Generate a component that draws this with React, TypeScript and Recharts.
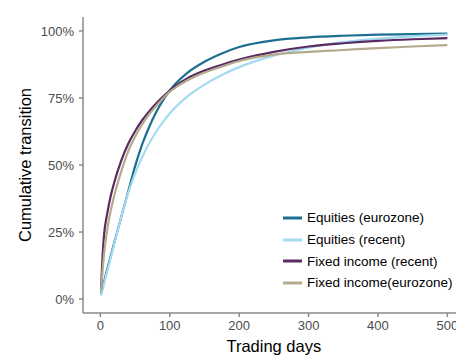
import React from "react";
import { Legend, Line, LineChart, XAxis, YAxis } from "recharts";

const days = [1, 3, 5, 10, 15, 20, 30, 40, 50, 60, 70, 80, 90, 100, 110, 125, 150, 175, 200, 250, 300, 350, 400, 450, 500];

// cumulative transition, %
const equitiesEurozone = [2, 4, 6.1, 11.2, 16.1, 21, 30.5, 40, 49.5, 57.5, 64, 69.5, 74, 77.8, 80.8, 84.3, 88.5, 91.6, 94, 96.5, 97.6, 98.2, 98.6, 98.8, 99];
const equitiesRecent = [1.2, 3.2, 5.3, 10.5, 15.5, 20.5, 30.5, 39.5, 46.8, 52.8, 57.9, 62.3, 66, 69.2, 72, 75.5, 80, 83.6, 86.5, 90.8, 93.8, 95.8, 97.1, 98, 98.6];
const fixedRecent = [3.6, 15, 23, 32, 38.5, 43.5, 51.5, 57.8, 62.6, 66.6, 69.9, 72.8, 75.4, 77.8, 79.8, 82.3, 85.2, 87.4, 89.3, 92.2, 94.2, 95.4, 96.3, 96.9, 97.3];
const fixedEurozone = [3, 10, 16, 26, 33, 38.5, 47.5, 55, 60.5, 65, 68.8, 71.9, 74.8, 77.3, 79.2, 81.5, 84.5, 86.7, 88.8, 91.2, 92.2, 92.9, 93.6, 94.2, 94.7];

const xTicks = [0, 100, 200, 300, 400, 500];
const yTicks = [0, 0.25, 0.5, 0.75, 1];

const series = [
  { key: "eqEuro", name: "Equities (eurozone)", color: "#1d6f90", values: equitiesEurozone },
  { key: "eqRecent", name: "Equities (recent)", color: "#a3dbf0", values: equitiesRecent },
  { key: "fiRecent", name: "Fixed income (recent)", color: "#5c2a63", values: fixedRecent },
  { key: "fiEuro", name: "Fixed income(eurozone)", color: "#b4ab8c", values: fixedEurozone },
];

const data = days.map((day, i) => {
  const row: Record<string, number> = { day };
  series.forEach(s => { row[s.key] = s.values[i] / 100 });
  return row;
});

const font = "'Liberation Sans', Arial, Helvetica, sans-serif";
const axisGrey = "#8a8a8a";

function LegendBox() {
  return (
    <div style={{ fontFamily: font, fontSize: 13.5, color: "#000" }}>
      {series.map(s => (
        <div key={s.key} style={{ display: "flex", alignItems: "center", height: 21.7 }}>
          <svg width={24} height={6}>
            <line x1={0} y1={3} x2={19} y2={3} stroke={s.color} strokeWidth={3} />
          </svg>
          <span style={{ whiteSpace: "nowrap" }}>{s.name}</span>
        </div>
      ))}
    </div>
  );
}

export default function App() {
  return (
    <div style={{ position: "fixed", left: 0, top: 0, width: 456, height: 356, overflow: "hidden", background: "#fff" }}>
      <LineChart
        width={480}
        height={356}
        data={data}
        margin={{ top: 17, right: 15.3, bottom: 0, left: 0 }}
      >
        <XAxis
          dataKey="day"
          type="number"
          domain={[-25, 525]}
          ticks={xTicks}
          allowDataOverflow
          height={43}
          stroke={axisGrey}
          strokeWidth={1.5}
          tickSize={4}
          tickMargin={4}
          tick={{ fontSize: 13, fill: "#4d4d4d", fontFamily: font }}
          label={{ value: "Trading days", position: "insideBottom", offset: 4, style: { fontSize: 16.5, fill: "#000", fontFamily: font } }}
        />
        <YAxis
          type="number"
          domain={[-0.052, 1.052]}
          ticks={yTicks}
          allowDataOverflow
          width={83}
          stroke={axisGrey}
          strokeWidth={1.5}
          tickSize={4}
          tickMargin={5}
          tickFormatter={v => `${Math.round(v * 100)}%`}
          tick={{ fontSize: 13, fill: "#4d4d4d", fontFamily: font }}
          label={{ value: "Cumulative transition", angle: -90, position: "insideLeft", offset: 25.5, style: { textAnchor: "middle", fontSize: 16.5, fill: "#000", fontFamily: font } }}
        />
        <Legend
          layout="horizontal"
          verticalAlign="middle"
          align="center"
          content={<LegendBox />}
          wrapperStyle={{ left: 283, top: 207, width: "auto" }}
        />
        {series.map(s => (
          <Line
            key={s.key}
            dataKey={s.key}
            name={s.name}
            type="monotone"
            stroke={s.color}
            strokeWidth={2.2}
            dot={false}
            activeDot={false}
            isAnimationActive={false}
          />
        ))}
      </LineChart>
    </div>
  );
}
